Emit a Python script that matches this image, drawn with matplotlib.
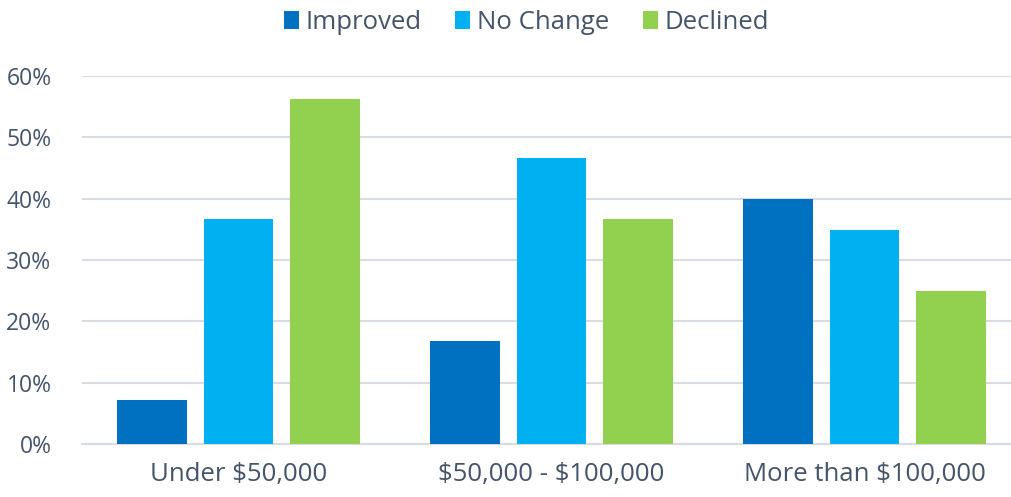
import matplotlib.pyplot as plt
import numpy as np

plt.rcParams['font.family'] = ['Open Sans', 'DejaVu Sans']
plt.rcParams['text.parse_math'] = False

# Data
categories = ['Under $50,000', '$50,000 - $100,000', 'More than $100,000']
series_names = ['Improved', 'No Change', 'Declined']
improved = [7.2, 16.8, 40.0]
no_change = [36.7, 46.7, 34.9]
declined = [56.3, 36.7, 25.0]
colors = ['#0070C0', '#00B0F0', '#92D050']
text_color = '#44546A'

fig = plt.figure(figsize=(10.12, 4.97), dpi=100)
ax = fig.add_axes([82 / 1012, 53 / 497, 939 / 1012, 368 / 497])

x = np.arange(len(categories))
width = 0.223
step = 0.277
for i, (vals, name) in enumerate(zip([improved, no_change, declined], series_names)):
    ax.bar(x + (i - 1) * step, vals, width, color=colors[i], label=name, zorder=3)

ax.set_xlim(-0.5, 2.5)
ax.set_ylim(0, 60)
ax.set_yticks(range(0, 61, 10))
ax.set_yticklabels([f'{v}%' for v in range(0, 61, 10)])
ax.set_xticks(x)
ax.set_xticklabels(categories)

ax.grid(axis='y', color='#D9DDE3', linewidth=1.5, zorder=0)
for s in ['top', 'right', 'left']:
    ax.spines[s].set_visible(False)
ax.spines['bottom'].set_color('#D9DDE3')
ax.spines['bottom'].set_linewidth(1.5)
ax.tick_params(axis='both', length=0, colors=text_color)
ax.tick_params(axis='x', labelsize=18.5, pad=13)
ax.tick_params(axis='y', labelsize=16.5, pad=22)

leg = fig.legend(loc='upper center', bbox_to_anchor=(0.52, 1.027), ncol=3, frameon=False,
                 fontsize=18.5, handlelength=0.6, handleheight=0.7, handletextpad=0.25,
                 columnspacing=1.3)
for t in leg.get_texts():
    t.set_color(text_color)

plt.savefig('out.png', dpi=100)
